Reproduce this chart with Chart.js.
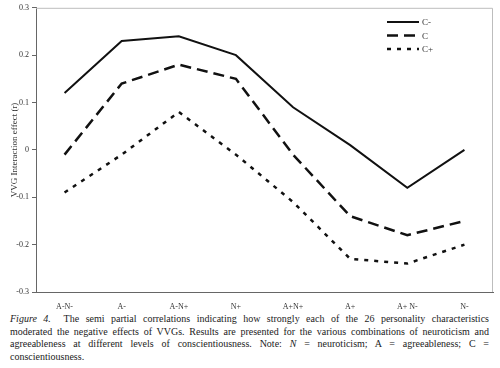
<!DOCTYPE html>
<html>
<head>
<meta charset="utf-8">
<script src="https://cdn.jsdelivr.net/npm/chart.js@4/dist/chart.umd.min.js"></script>
<style>
  body { margin: 0; background: #fff; width: 500px; height: 368px; overflow: hidden; position: relative; }
  #wrap { position: absolute; left: 0; top: 0; width: 500px; height: 310px; }
  #caption { position: absolute; left: 10px; top: 313px; width: 479px;
    font-family: "Liberation Serif", "Times New Roman", serif; font-size: 10px; line-height: 12.7px; color: #222; }
  #caption div { text-align: justify; text-align-last: justify; white-space: nowrap; }
  #caption div.last { text-align-last: left; }
</style>
</head>
<body>
<div id="wrap"><canvas id="chart" width="500" height="310"></canvas></div>
<div id="caption">
  <div><i>Figure 4.</i>&nbsp; The semi partial correlations indicating how strongly each of the 26 personality characteristics</div>
  <div>moderated the negative effects of VVGs. Results are presented for the various combinations of neuroticism and</div>
  <div>agreeableness at different levels of conscientiousness. Note: <i>N</i> = neuroticism; A = agreeableness; C =</div>
  <div class="last">conscientiousness.</div>
</div>
<script>
const categories = ['A-N-', 'A-', 'A-N+', 'N+', 'A+N+', 'A+', 'A+ N-', 'N-'];
const cMinus = [0.12, 0.23, 0.24, 0.20, 0.09, 0.01, -0.08, 0.00];
const cMid = [-0.01, 0.14, 0.18, 0.15, -0.01, -0.14, -0.18, -0.15];
const cPlus = [-0.09, -0.01, 0.08, -0.01, -0.11, -0.23, -0.24, -0.20];
const yTicks = [-0.3, -0.2, -0.1, 0, 0.1, 0.2, 0.3];

const serif = '"Liberation Serif", "Times New Roman", serif';

// light frame on top and right, like the Excel plot area
const framePlugin = {
    id: 'frame',
    beforeDatasetsDraw(chart) {
        const { ctx, chartArea: a } = chart;
        ctx.save();
        ctx.strokeStyle = '#bdbdbd';
        ctx.lineWidth = 1;
        ctx.beginPath();
        ctx.moveTo(a.left, a.top + 0.5);
        ctx.lineTo(a.right - 0.5, a.top + 0.5);
        ctx.lineTo(a.right - 0.5, a.bottom);
        ctx.stroke();
        ctx.restore();
    }
};

// legend drawn inside the plot, top right
const legendPlugin = {
    id: 'innerLegend',
    afterDraw(chart) {
        const { ctx } = chart;
        ctx.save();
        ctx.font = '9px ' + serif;
        ctx.textBaseline = 'middle';
        chart.data.datasets.forEach((ds, i) => {
            const y = 22 + i * 13.5;
            ctx.strokeStyle = '#111';
            ctx.lineWidth = ds.borderWidth;
            ctx.setLineDash(ds.borderDash || []);
            ctx.beginPath();
            ctx.moveTo(387, y);
            ctx.lineTo(419, y);
            ctx.stroke();
            ctx.setLineDash([]);
            ctx.fillStyle = '#333';
            ctx.fillText(ds.label, 422, y + 1);
        });
        ctx.restore();
    }
};

new Chart(document.getElementById('chart'), {
    type: 'line',
    data: {
        labels: categories,
        datasets: [
            { label: 'C-', data: cMinus, borderColor: '#111', borderWidth: 2, pointRadius: 0, tension: 0 },
            { label: 'C', data: cMid, borderColor: '#111', borderWidth: 2.5, borderDash: [11, 6], pointRadius: 0, tension: 0 },
            { label: 'C+', data: cPlus, borderColor: '#111', borderWidth: 2.5, borderDash: [4, 6], pointRadius: 0, tension: 0 }
        ]
    },
    options: {
        responsive: false,
        animation: false,
        layout: { padding: { top: 7, right: 7, left: 0, bottom: 0 } },
        plugins: { legend: { display: false }, tooltip: { enabled: false } },
        scales: {
            x: {
                offset: true,
                grid: { display: false },
                border: { display: true, color: '#666', width: 1 },
                ticks: { color: '#333', font: { family: serif, size: 8 }, padding: 2, maxRotation: 0, autoSkip: false },
                afterFit(scale) { scale.height = 18; }
            },
            y: {
                min: -0.3,
                max: 0.3,
                afterBuildTicks(scale) { scale.ticks = yTicks.map(v => ({ value: v })); },
                grid: { drawOnChartArea: false, drawTicks: true, tickLength: 4, color: '#666' },
                border: { display: true, color: '#666', width: 1 },
                ticks: {
                    color: '#333', font: { family: serif, size: 8 }, padding: 3,
                    callback: v => String(Math.round(v * 10) / 10)
                },
                title: {
                    display: true, text: 'VVG Interaction effect (r)', color: '#333',
                    font: { family: serif, size: 9 }, padding: { top: 9, bottom: 0 }
                },
                afterFit(scale) { scale.width = 36; }
            }
        }
    },
    plugins: [framePlugin, legendPlugin]
});
</script>
</body>
</html>
